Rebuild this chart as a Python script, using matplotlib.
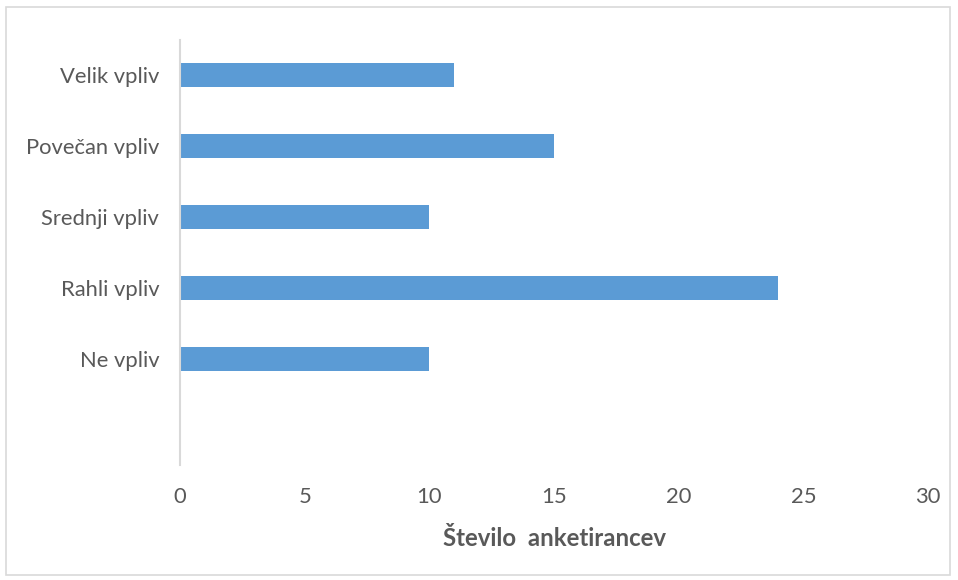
import matplotlib.pyplot as plt
from matplotlib.patches import Rectangle

categories = ['', 'Ne vpliv', 'Rahli vpliv', 'Srednji vpliv', 'Povečan vpliv', 'Velik vpliv']
values = [0, 10, 24, 10, 15, 11]
xticks = [0, 5, 10, 15, 20, 25, 30]

plt.rcParams['font.family'] = ['Lato', 'DejaVu Sans']

fig = plt.figure(figsize=(9.58, 5.8), dpi=100)
ax = fig.add_axes([0.1879, 0.198, 0.7808, 0.733])

ypos = list(range(len(categories)))
ax.barh(ypos, values, height=0.34, color='#5B9BD5')

ax.set_xlim(0, 30)
ax.set_ylim(-0.5, len(categories) - 0.5)
ax.set_xticks(xticks)
ax.set_yticks(ypos)
ax.set_yticklabels(categories)
ax.tick_params(axis='both', length=0, labelsize=15.8, colors='#595959')
ax.tick_params(axis='x', pad=16)
ax.tick_params(axis='y', pad=15)

for s in ['top', 'right', 'bottom']:
    ax.spines[s].set_visible(False)
ax.spines['left'].set_color('#d9d9d9')
ax.spines['left'].set_linewidth(1.5)

ax.set_xlabel('Število  anketirancev', fontsize=17.3, fontweight='bold', color='#595959', labelpad=14)

fig.patches.append(Rectangle((6 / 958, 5 / 580), 944 / 958, 568 / 580, transform=fig.transFigure,
                             fill=False, edgecolor='#d9d9d9', linewidth=1.2))

fig.savefig('out.png', dpi=100)
